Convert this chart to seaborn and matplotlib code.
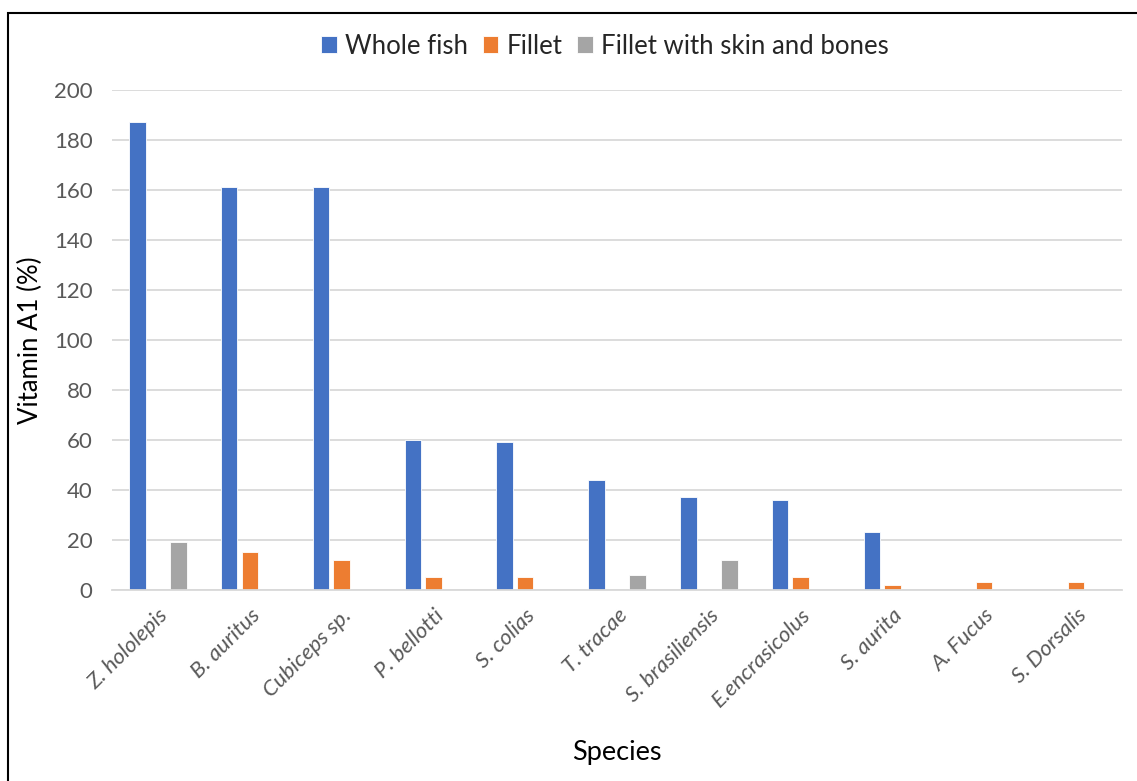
import matplotlib
matplotlib.use("Agg")
import matplotlib.pyplot as plt
import seaborn as sns
import pandas as pd
from matplotlib.patches import Rectangle

species = ["Z. hololepis", "B. auritus", "Cubiceps sp.", "P. bellotti", "S. colias",
           "T. tracae", "S. brasiliensis", "E.encrasicolus", "S. aurita", "A. Fucus",
           "S. Dorsalis"]
whole_fish = [187, 161, 161, 60, 59, 44, 37, 36, 23, 0, 0]
fillet = [0, 15, 12, 5, 5, 0, 0, 5, 2, 3, 3]
fillet_skin_bones = [19, 0, 0, 0, 0, 6, 12, 0, 0, 0, 0]
series_names = ["Whole fish", "Fillet", "Fillet with skin and bones"]
colors = ["#4472C4", "#ED7D31", "#A5A5A5"]

rows = []
for name, vals in zip(series_names, [whole_fish, fillet, fillet_skin_bones]):
    for sp, v in zip(species, vals):
        rows.append({"Species": sp, "Series": name, "Value": v})
df = pd.DataFrame(rows)

sns.set_theme(style="white")
plt.rcParams["font.family"] = ["Lato", "DejaVu Sans"]

fig = plt.figure(figsize=(11.37, 7.81), dpi=100)
ax = fig.add_axes([0.0985, 0.2446, 0.8883, 0.6402])

sns.barplot(data=df, x="Species", y="Value", hue="Series", order=species,
            hue_order=series_names, palette=colors, width=0.67, gap=0.2,
            saturation=1, ax=ax, legend=True, edgecolor="white", linewidth=0.6)

ax.set_xlim(-0.5, 10.5)
ax.set_ylim(0, 200)
ax.set_yticks(range(0, 201, 20))
ax.yaxis.grid(True, color="#D9D9D9", linewidth=1.3)
ax.set_axisbelow(True)
for s in ["top", "right", "left"]:
    ax.spines[s].set_visible(False)
ax.spines["bottom"].set_color("#D9D9D9")
ax.spines["bottom"].set_linewidth(1.3)
ax.tick_params(axis="both", length=0, colors="#595959", labelsize=16)
ax.tick_params(axis="y", pad=14)
ax.tick_params(axis="x", pad=11)
for lab in ax.get_xticklabels():
    lab.set_rotation(45)
    lab.set_ha("right")
    lab.set_rotation_mode("anchor")
    lab.set_fontstyle("italic")

ax.set_xlabel("Species", fontsize=19.5, color="black", labelpad=21)
ax.set_ylabel("Vitamin A1 (%)", fontsize=18.5, color="black", labelpad=8)

handles, labels = ax.get_legend_handles_labels()
ax.get_legend().remove()
fig.legend(handles, labels, loc="center", bbox_to_anchor=(0.532, 0.941), ncol=3,
           frameon=False, fontsize=18.5, handlelength=0.6, handleheight=0.6,
           handletextpad=0.3, columnspacing=0.6)

fig.patches.append(Rectangle((8 / 1137, -0.02), 1.05, 1 - 12.5 / 781 + 0.02,
                             transform=fig.transFigure, fill=False,
                             edgecolor="black", linewidth=1.5))

fig.savefig("out.png", dpi=100)
